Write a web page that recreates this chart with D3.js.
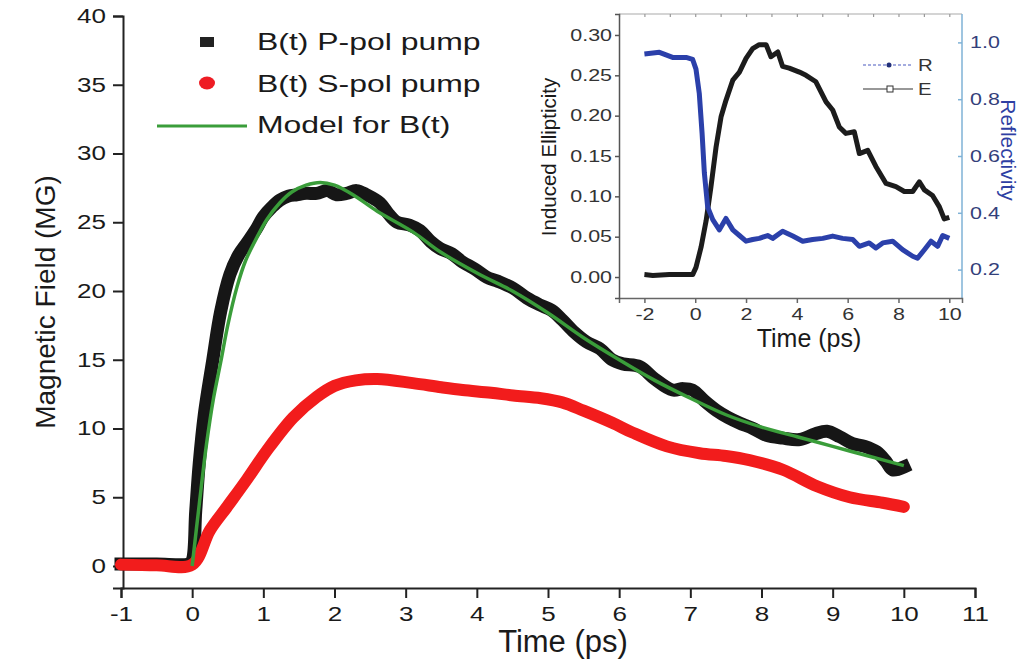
<!DOCTYPE html>
<html>
<head>
<meta charset="utf-8">
<script src="https://cdn.jsdelivr.net/npm/d3@7"></script>
<style>
  html, body { margin: 0; padding: 0; background: #fff; }
  svg { display: block; font-family: "Liberation Sans", Arial, sans-serif; }
</style>
</head>
<body>
<svg id="chart" width="1029" height="659"></svg>
<script>
// ---------------- main chart data ----------------
const pTime = [-1,-0.5,-0.05,0,0.05,0.1,0.17,0.29,0.4,0.53,0.65,0.77,0.9,1.0,1.12,1.23,1.35,1.47,1.6,1.75,1.9,2.03,2.17,2.31,2.45,2.64,2.76,2.88,3.05,3.2,3.35,3.48,3.65,3.8,3.97,4.14,4.3,4.51,4.7,4.88,5.05,5.2,5.37,5.54,5.73,5.9,6.05,6.29,6.5,6.75,6.9,7.03,7.2,7.37,7.53,7.69,7.88,8.07,8.3,8.54,8.75,8.92,9.1,9.28,9.45,9.62,9.75,9.84,10.0];
const pField = [0.15,0.15,0.15,0.4,4.0,7.5,11.0,15.0,18.5,21.2,22.6,23.5,24.5,25.4,26.1,26.6,26.9,27.0,27.1,27.1,27.3,27.0,27.1,27.3,27.0,26.4,25.6,25.0,24.8,24.4,23.6,23.1,22.7,22.1,21.6,21.0,20.7,20.2,19.5,19.0,18.6,17.9,17.0,16.3,15.8,15.0,14.7,14.5,13.6,12.8,12.9,12.8,12.0,11.3,10.8,10.4,10.0,9.5,9.3,9.2,9.6,9.8,9.4,8.9,8.7,8.3,7.6,7.0,7.2];

const sTime = [-1,-0.5,0,0.25,0.49,0.77,1.05,1.42,1.75,2.0,2.3,2.6,3.1,3.5,3.8,4.2,4.51,4.9,5.2,5.5,5.91,6.19,6.67,7.13,7.5,7.83,8.3,8.78,9.24,9.7,10.0];
const sField = [0.1,0.05,0.1,2.6,4.3,6.3,8.4,10.8,12.3,13.1,13.5,13.6,13.3,13.0,12.8,12.6,12.4,12.2,11.9,11.3,10.4,9.7,8.7,8.2,8.0,7.7,7.0,5.8,5.0,4.6,4.3];

const mTime = [0,0.1,0.2,0.3,0.4,0.5,0.63,0.75,0.91,1.05,1.23,1.4,1.6,1.8,2.0,2.26,2.6,3.1,3.5,4.04,4.5,5.0,5.5,6.0,6.5,7.0,7.5,8.0,8.5,9.0,9.5,10.0];
const mField = [0,4.5,8.8,12.2,14.8,17.5,20.3,22.2,23.9,25.2,26.4,27.2,27.7,27.9,27.7,27.0,25.8,24.3,22.8,21.2,20.0,18.4,16.6,15.0,13.5,12.2,11.0,10.1,9.4,8.7,8.0,7.3];

const mainXTicks = [-1,0,1,2,3,4,5,6,7,8,9,10,11];
const mainYTicks = [0,5,10,15,20,25,30,35,40];
const legendLabels = ["B(t) P-pol pump", "B(t) S-pol pump", "Model for B(t)"];

// ---------------- inset data ----------------
const rTime = [-2,-1.41,-0.89,-0.36,-0.1,0.03,0.16,0.27,0.36,0.49,0.69,0.95,1.21,1.48,1.74,2.0,2.26,2.52,2.85,3.05,3.44,3.84,4.23,4.62,5.02,5.41,5.8,6.2,6.46,6.85,7.11,7.38,7.77,8.16,8.56,8.75,9.02,9.28,9.54,9.74,10.0];
const rValue = [0.959,0.965,0.947,0.947,0.94,0.906,0.82,0.68,0.54,0.42,0.376,0.34,0.38,0.34,0.32,0.30,0.306,0.31,0.32,0.31,0.335,0.318,0.30,0.306,0.31,0.318,0.31,0.306,0.282,0.294,0.276,0.294,0.30,0.27,0.247,0.24,0.27,0.30,0.282,0.32,0.31];

const eTime = [-2,-1.67,-1.02,-0.36,-0.1,0.03,0.23,0.43,0.62,0.82,1.02,1.21,1.48,1.74,2.0,2.26,2.52,2.79,2.98,3.25,3.44,3.7,4.1,4.36,4.75,5.15,5.41,5.67,5.93,6.26,6.46,6.79,7.11,7.51,7.9,8.23,8.56,8.82,9.02,9.34,9.61,9.8,10.0];
const eValue = [0.003,0.002,0.003,0.003,0.003,0.012,0.037,0.07,0.112,0.161,0.199,0.219,0.244,0.254,0.271,0.283,0.288,0.288,0.273,0.279,0.261,0.259,0.254,0.25,0.242,0.217,0.207,0.186,0.178,0.18,0.153,0.157,0.137,0.116,0.112,0.106,0.106,0.118,0.108,0.101,0.087,0.072,0.074];

const insetXTicks = [-2,0,2,4,6,8,10];
const insetLeftTicks = [0,0.05,0.10,0.15,0.20,0.25,0.30];
const insetRightTicks = [0.2,0.4,0.6,0.8,1.0];
const insetLegend = ["R", "E"];

// ---------------- drawing ----------------
const svg = d3.select("#chart");
const intFmt = d => String(d);   // plain hyphen-minus like the reference

function stretch(sel, k) {
  sel.each(function () {
    const w = this.getComputedTextLength();
    this.setAttribute("textLength", w * k);
    this.setAttribute("lengthAdjust", "spacingAndGlyphs");
  });
}

// Main scales
const x = d3.scaleLinear().domain([-1, 11]).range([121, 975]);
const y = d3.scaleLinear().domain([-1.6, 40]).range([588, 16]);

const minorX = d3.range(-1, 11.01, 0.5).filter(v => Math.abs(v - Math.round(v)) > 0.1);
const minorY = d3.range(2.5, 40, 5);

const gx = svg.append("g").attr("transform", "translate(0,588)");
gx.call(d3.axisBottom(x).tickValues(minorX).tickSize(5).tickFormat(""));
gx.call(d3.axisBottom(x).tickValues(mainXTicks).tickSize(10).tickPadding(9).tickFormat(intFmt));
gx.selectAll("path.domain").attr("stroke", "#222").attr("stroke-width", 2);
gx.selectAll("line").attr("stroke", "#222").attr("stroke-width", 2);
gx.selectAll("text").attr("font-size", 20).attr("fill", "#1a1a1a")
  .attr("font-family", "Liberation Sans, Arial, sans-serif");
stretch(gx.selectAll("text"), 1.3);

const gy = svg.append("g").attr("transform", "translate(123,0)");
gy.call(d3.axisLeft(y).tickValues(minorY).tickSize(6).tickFormat(""));
gy.call(d3.axisLeft(y).tickValues(mainYTicks).tickSize(10).tickPadding(7).tickFormat(intFmt));
gy.selectAll("path.domain").attr("stroke", "#222").attr("stroke-width", 2);
gy.selectAll("line").attr("stroke", "#222").attr("stroke-width", 2);
gy.selectAll("text").attr("font-size", 20).attr("fill", "#1a1a1a")
  .attr("font-family", "Liberation Sans, Arial, sans-serif");
stretch(gy.selectAll("text"), 1.3);

// axis titles
svg.append("text").attr("x", 563).attr("y", 652).attr("text-anchor", "middle")
  .attr("font-size", 31).attr("fill", "#1a1a1a").text("Time (ps)");
svg.append("text").attr("transform", "translate(55,302) rotate(-90)").attr("text-anchor", "middle")
  .attr("font-size", 28).attr("fill", "#1a1a1a").text("Magnetic Field (MG)");

// series lines
const lineMain = d3.line().x(d => x(d[0])).y(d => y(d[1])).curve(d3.curveCatmullRom.alpha(0.5));
const pData = pTime.map((t, i) => [t, pField[i]]);
const sData = sTime.map((t, i) => [t, sField[i]]);
const mData = mTime.map((t, i) => [t, mField[i]]);

svg.append("path").datum(pData).attr("d", lineMain).attr("fill", "none")
  .attr("stroke", "#161616").attr("stroke-width", 13).attr("stroke-linejoin", "round").attr("stroke-linecap", "square");
svg.append("path").datum(sData).attr("d", lineMain).attr("fill", "none")
  .attr("stroke", "#f21c1c").attr("stroke-width", 12).attr("stroke-linejoin", "round").attr("stroke-linecap", "round");
svg.append("path").datum(mData).attr("d", lineMain).attr("fill", "none")
  .attr("stroke", "#3a9d3a").attr("stroke-width", 3.5).attr("stroke-linejoin", "round");

// main legend
const lg = svg.append("g");
lg.append("rect").attr("x", 200).attr("y", 37).attr("width", 14).attr("height", 10).attr("fill", "#222");
lg.append("ellipse").attr("cx", 207).attr("cy", 83).attr("rx", 8).attr("ry", 6.5).attr("fill", "#ee1c24");
lg.append("line").attr("x1", 157).attr("x2", 247).attr("y1", 126).attr("y2", 126)
  .attr("stroke", "#3a9d3a").attr("stroke-width", 3);
const lgText = lg.selectAll("text.lg").data(legendLabels).join("text").attr("class", "lg")
  .attr("x", 257).attr("y", (d, i) => [50, 92, 133][i])
  .attr("font-size", 24).attr("fill", "#1a1a1a").text(d => d);
stretch(lgText, 1.33);

// ---------------- inset ----------------
const ix = d3.scaleLinear().domain([-3, 10.5]).range([619, 962]);
const iyL = d3.scaleLinear().domain([-0.026, 0.326]).range([298, 14]);
const iyR = d3.scaleLinear().domain([0.1, 1.1]).range([298, 14]);

const ins = svg.append("g");
ins.append("line").attr("x1", 619).attr("x2", 962).attr("y1", 14).attr("y2", 14).attr("stroke", "#aaa").attr("stroke-width", 1.2);
ins.append("line").attr("x1", 962).attr("x2", 962).attr("y1", 14).attr("y2", 298).attr("stroke", "#7fb2d6").attr("stroke-width", 1.5);

const ixMinor = [-3,-1,1,3,5,7,9];
const igx = ins.append("g").attr("transform", "translate(0,298)");
igx.call(d3.axisBottom(ix).tickValues(ixMinor).tickSize(3).tickFormat(""));
igx.call(d3.axisBottom(ix).tickValues(insetXTicks).tickSize(5).tickPadding(5).tickFormat(intFmt));
igx.selectAll("path.domain").attr("stroke", "#666").attr("stroke-width", 1.5);
igx.selectAll("line").attr("stroke", "#666").attr("stroke-width", 1.5);
igx.selectAll("text").attr("font-size", 16.5).attr("fill", "#333");
stretch(igx.selectAll("text"), 1.3);

const igt = ins.append("g").attr("transform", "translate(0,14)");
igt.call(d3.axisBottom(ix).tickValues(insetXTicks.concat(ixMinor)).tickSize(3).tickFormat(""));
igt.selectAll("path.domain").attr("stroke", "none");
igt.selectAll("line").attr("stroke", "#999").attr("stroke-width", 1.2);

const igl = ins.append("g").attr("transform", "translate(619,0)");
igl.call(d3.axisLeft(iyL).tickValues(insetLeftTicks).tickSize(4).tickPadding(3).tickFormat(d3.format(".2f")));
igl.selectAll("path.domain").attr("stroke", "#555").attr("stroke-width", 1.5);
igl.selectAll("line").attr("stroke", "#555").attr("stroke-width", 1.5);
igl.selectAll("text").attr("font-size", 16.5).attr("fill", "#333");
stretch(igl.selectAll("text"), 1.3);

const igr = ins.append("g").attr("transform", "translate(962,0)");
igr.call(d3.axisRight(iyR).tickValues(insetRightTicks).tickSize(-4).tickPadding(8).tickFormat(d3.format(".1f")));
igr.selectAll("path.domain").attr("stroke", "none");
igr.selectAll("line").attr("stroke", "#7fb2d6").attr("stroke-width", 1.5);
igr.selectAll("text").attr("font-size", 16.5).attr("fill", "#33407a");
stretch(igr.selectAll("text"), 1.3);

ins.append("text").attr("x", 809).attr("y", 347).attr("text-anchor", "middle")
  .attr("font-size", 25).attr("fill", "#1a1a1a").text("Time (ps)");
ins.append("text").attr("transform", "translate(556,157) rotate(-90)").attr("text-anchor", "middle")
  .attr("font-size", 20.5).attr("fill", "#1a1a1a").text("Induced Ellipticity");
ins.append("text").attr("transform", "translate(1001,150) rotate(90)").attr("text-anchor", "middle")
  .attr("font-size", 21).attr("fill", "#2f3fa3").text("Reflectivity");

const eData = eTime.map((t, i) => [t, eValue[i]]);
const rData = rTime.map((t, i) => [t, rValue[i]]);
const lineE = d3.line().x(d => ix(d[0])).y(d => iyL(d[1])).curve(d3.curveLinear);
const lineR = d3.line().x(d => ix(d[0])).y(d => iyR(d[1])).curve(d3.curveLinear);
ins.append("path").datum(eData).attr("d", lineE).attr("fill", "none")
  .attr("stroke", "#1c1c1c").attr("stroke-width", 5).attr("stroke-linejoin", "round");
ins.append("path").datum(rData).attr("d", lineR).attr("fill", "none")
  .attr("stroke", "#2b40aa").attr("stroke-width", 5).attr("stroke-linejoin", "round");

const il = ins.append("g");
il.append("line").attr("x1", 863).attr("x2", 913).attr("y1", 65).attr("y2", 65)
  .attr("stroke", "#4a5ac0").attr("stroke-width", 1.2).attr("stroke-dasharray", "3,2");
il.append("circle").attr("cx", 889).attr("cy", 65).attr("r", 2.5).attr("fill", "#22307a");
il.append("line").attr("x1", 863).attr("x2", 913).attr("y1", 89).attr("y2", 89)
  .attr("stroke", "#333").attr("stroke-width", 1.2);
il.append("rect").attr("x", 887).attr("y", 86).attr("width", 6).attr("height", 6)
  .attr("fill", "#fff").attr("stroke", "#333").attr("stroke-width", 1);
const ilText = il.selectAll("text.il").data(insetLegend).join("text").attr("class", "il")
  .attr("x", 918).attr("y", (d, i) => [71, 95][i])
  .attr("font-size", 17).attr("fill", "#333").text(d => d);
stretch(ilText, 1.2);
</script>
</body>
</html>
